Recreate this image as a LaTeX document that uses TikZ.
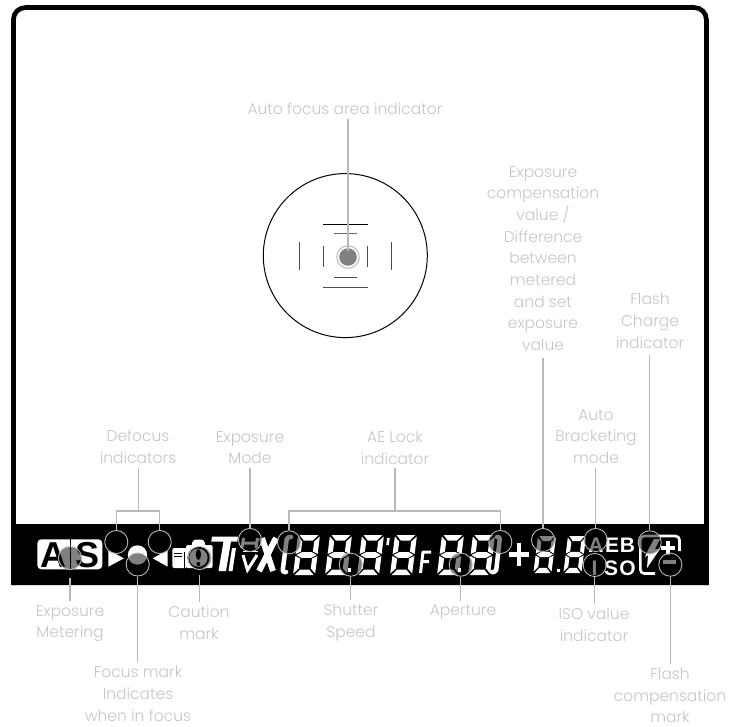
\documentclass[tikz,border=0pt]{standalone}
\usepackage{fontspec}
\setmainfont{Poppins}[UprightFont=* Light]
\newfontfamily\lcdfont{Liberation Sans}
\usetikzlibrary{calc}
\definecolor{labcol}{HTML}{C6C6C6}
\definecolor{leadcol}{HTML}{B9B9B9}
\definecolor{dimcol}{HTML}{808080}

\tikzset{
  lcddigit/.pic={
    \fill[white] (1.5,0)--(20.5,0)--(15.5,5.5)--(6.5,5.5)--cycle;
    \fill[white] (0,1.5)--(5,6.5)--(5,16.5)--(0,19)--cycle;
    \fill[white] (22,1.5)--(22,19)--(17,16.5)--(17,6.5)--cycle;
    \fill[white] (1,20)--(6,17.2)--(16,17.2)--(21,20)--(16,22.8)--(6,22.8)--cycle;
    \fill[white] (0,21)--(5,23.5)--(5,33.5)--(0,38.5)--cycle;
    \fill[white] (22,21)--(22,38.5)--(17,33.5)--(17,23.5)--cycle;
    \fill[white] (6.5,34.5)--(15.5,34.5)--(20.5,40)--(1.5,40)--cycle;
  }
}

\begin{document}
\begin{tikzpicture}[
  x=1pt, y=-1pt,
  lab/.style={text=labcol, align=center, inner sep=0pt, outer sep=4pt, font=\fontsize{15.5}{21.7}\selectfont},
  lead/.style={draw=leadcol, line width=1.2pt},
  loupe/.style={circle, draw=leadcol, line width=1pt, minimum size=23pt, inner sep=0pt},
  lcdtext/.style={text=white, inner sep=0pt, anchor=base, font=\lcdfont\bfseries\fontsize{21}{21}\selectfont},
  seg/.style={white, line width=4.5pt, line join=round},
  tick/.style={line width=1pt, draw=black!70}
]
\useasboundingbox (0,0) rectangle (739,727);

% ---- Viewfinder frame ----
\fill[black, rounded corners=2pt] (11,524) rectangle (708.7,585);
\draw[line width=4.7pt, rounded corners=12pt] (13.4,585) -- (13.4,7.6) -- (706.4,7.6) -- (706.4,585);

% ---- Focus circle ----
\node[circle, draw, line width=1pt, minimum size=164pt, inner sep=0pt] (afring) at (345.3,255.6) {};
\draw[line width=1pt] (323,224.3) -- (368,224.3);
\draw[line width=1.4pt, black!60] (334.3,233.7) -- (356.7,233.7);
\draw[line width=1pt, black!70] (334.3,278) -- (356.7,278);
\draw[line width=1pt, black!70] (323,287.7) -- (368,287.7);
\draw[tick] (299,242.3) -- (299,269.7);
\draw[tick] (323.7,245.7) -- (323.7,266.7);
\draw[tick] (367.7,245.7) -- (367.7,266.7);
\draw[tick] (391.7,242.3) -- (391.7,269.7);
\node[circle, fill=dimcol, minimum size=17.6pt, inner sep=0pt] (afdot) at (348,257) {};
\node[loupe, minimum size=22.5pt] (afloupe) at (348,257) {};

% ---- Metering box and focus signs ----
\fill[white, rounded corners=4pt] (37.3,539.3) rectangle (102.3,569.3);
\draw[line width=.8pt] (70,539.3) -- (70,569.3);
\node[lcdtext, text=black, font=\lcdfont\bfseries\fontsize{36}{36}\selectfont] (signA) at (53,567.7) {A};
\node[lcdtext, text=black, font=\lcdfont\bfseries\fontsize{36}{36}\selectfont] (signS) at (88,567.7) {S};
\fill[white] (108.3,550) -- (124,558.3) -- (108.3,566.7) -- cycle;
\fill[white] (167.7,550) -- (152.7,558.3) -- (167.7,566.7) -- cycle;
\fill[white] (137.5,555) circle (9.7);

% ---- Camera icon ----
\fill[white, rounded corners=2pt] (172.3,548) rectangle (187,568);
\fill[white, rounded corners=2pt] (186,545) rectangle (212.7,568);
\fill[white, rounded corners=3pt] (191,548) -- (193,539.5) -- (204,539.5) -- (206,548) -- cycle;
\draw[line width=1pt] (174,553.5) -- (182,553.5);
\draw[line width=1pt] (174,556.5) -- (182,556.5);
\draw[line width=1pt] (184.8,552) -- (184.8,568);
\fill[black] (198.4,557.7) circle (11);
\fill[white] (198.4,557.7) circle (9.2);
\fill[black] (198.4,554.5) ellipse (2.6 and 5.5);
\fill[black] (198.4,564) circle (2);

% ---- Mode letters ----
\fill[white] (212,536.5) -- (238,536.5) -- (237.3,541.5) -- (231,541.5) -- (226,571) -- (218.5,571) -- (223.5,541.5) -- (211.3,541.5) -- cycle;
\fill[white] (232,548) -- (236,548) -- (232.5,571) -- (228.5,571) -- cycle;
\draw[white, line width=3pt] (243.5,538) -- (242,548) (257.5,538) -- (256,548) (243,543) -- (257,543);
\draw[white, line width=1.8pt] (242.5,551.5) -- (258,551.5);
\draw[white, line width=3pt] (243,555) -- (247.5,570) -- (257,555);
\draw[white, line width=6pt] (262,538) -- (273,571) (276,538) -- (259,571);

% ---- Number segments ----
\foreach \x in {298,330,362,395,442,473}
  \path (\x,535) pic[xslant=.125] {lcddigit};
\foreach \x in {538,568}
  \path (\x,536) pic[xslant=.125, xscale=.82, yscale=.925] {lcddigit};
\draw[seg, line cap=round, rounded corners=2pt] (291,537) -- (287,537) -- (282.5,572) -- (286,572);
\draw[seg, line cap=round, rounded corners=2pt] (497,537) -- (500,537) -- (496,572) -- (492,572);
\draw[seg, line width=2.6pt] (388.5,538) -- (387.5,545);
\draw[seg, line width=3pt] (420.5,573) -- (423,552) -- (431,552) (422,561.5) -- (429,561.5);
\fill[white] (556.5,572) rectangle (559.5,569);
\draw[white, line width=4.5pt] (509,554.5) -- (529,554.5) (519,543) -- (519,566);

% ---- Bracketing, ISO and flash signs ----
\node[lcdtext] (signAeb) at (596,552) {A};
\node[lcdtext] (signE) at (612,552) {E};
\node[lcdtext] (signB) at (627.5,552) {B};
\node[lcdtext] (signI) at (594.5,575) {I};
\node[lcdtext] (signSo) at (611,575) {S};
\node[lcdtext] (signO) at (627.5,575) {O};
\draw[white, line width=2.6pt, rounded corners=4pt] (655,573.5) -- (640.3,573.5) -- (640.3,536) -- (679.5,536) -- (679.5,551);
\fill[white] (654,539) -- (660,539) -- (655,549) -- (660,549) -- (647,568) -- (648,555) -- (645,557) -- (648,550) -- cycle;
\draw[white, line width=3.4pt] (661,548) -- (675,548) (668,541) -- (668,555);
\draw[white, line width=4pt] (662.5,562) -- (676,562);

% ---- Loupes ----
\node[loupe] (mmeter) at (70,558) {};
\node[loupe] (mdefl) at (116.3,542) {};
\node[loupe] (mdefr) at (159.7,542) {};
\node[loupe] (mfocus) at (137.7,564.5) {};
\node[loupe] (mcaution) at (199.5,558) {};
\node[loupe] (mmode) at (250,540) {};
\node[loupe] (maeleft) at (289,542.3) {};
\node[loupe] (maeright) at (500.3,542) {};
\node[loupe] (mshutter) at (350.7,564.7) {};
\node[loupe] (maperture) at (460.7,564.7) {};
\node[loupe] (mcomp) at (543,540) {};
\node[loupe] (mbracket) at (595.7,540) {};
\node[loupe] (miso) at (594.7,565) {};
\node[loupe] (mcharge) at (649.7,542.3) {};
\node[loupe] (mflash) at (670.3,564.7) {};

% ---- Dimmed part inside the loupes ----
\begin{scope}
  \clip (11,524) rectangle (708.7,585);
  \foreach \m in {mmeter,mdefl,mdefr,mfocus,mcaution,mmode,maeleft,maeright,mshutter,maperture,mcomp,mbracket,miso,mcharge,mflash}
    \fill[dimcol, blend mode=multiply] (\m.center) circle (11);
\end{scope}
\fill[white] (348,567.5) rectangle (351,572);
\fill[white] (458,567.5) rectangle (461,572);

% ---- Labels ----
\node[lab] (labarea) at (345,109) {Auto focus area indicator};
\node[lab] (labcomp) at (543,258.5) {Exposure\\compensation\\value /\\Difference\\between\\metered\\and set\\exposure\\value};
\node[lab] (labcharge) at (650,321) {Flash\\Charge\\indicator};
\node[lab] (labbracket) at (596,436.5) {Auto\\Bracketing\\mode};
\node[lab] (labdefocus) at (138,447) {Defocus\\indicators};
\node[lab] (labmode) at (250,447.5) {Exposure\\Mode};
\node[lab] (labae) at (395,447.5) {AE Lock\\indicator};
\node[lab] (labmeter) at (70,623.5) {Exposure\\Metering};
\node[lab] (labcaution) at (199,623) {Caution\\mark};
\node[lab] (labshutter) at (351,623) {Shutter\\Speed};
\node[lab] (labaperture) at (463,612) {Aperture};
\node[lab] (labiso) at (594,625) {ISO value\\indicator};
\node[lab] (labfocus) at (138,694) {Focus mark\\Indicates\\when in focus};
\node[lab] (labflash) at (670,695.5) {Flash\\compensation\\mark};

% ---- Leads going up ----
\draw[lead] (afloupe.center |- labarea.south) -- ([yshift=6pt]afloupe.center);
\draw[lead] (mcomp.north |- labcomp.south) ++(0,3) -- (mcomp.north);
\draw[lead] (mcharge.north |- labcharge.south) ++(0,3) -- (mcharge.north);
\draw[lead] (mbracket.north |- labbracket.south) -- (mbracket.north);
\draw[lead] (mmode.north |- labmode.south) -- (mmode.north);
\coordinate (defjoin) at (138.7,511);
\coordinate (aejoin) at (395,511);
\draw[lead] (defjoin |- labdefocus.south) -- (defjoin);
\draw[lead] (mdefl.north) |- (defjoin) -| (mdefr.north);
\draw[lead] (aejoin |- labae.south) -- (aejoin);
\draw[lead] (maeleft.north) |- (aejoin) -| (maeright.north);

% ---- Leads going down ----
\draw[lead] ([yshift=-7.5pt]mmeter.south) -- (mmeter.south |- labmeter.north);
\draw[lead] (mfocus.south) -- (mfocus.south |- labfocus.north);
\draw[lead] ([yshift=-5pt]mcaution.south) -- (mcaution.south |- labcaution.north);
\draw[lead] (mshutter.south) -- (mshutter.south |- labshutter.north);
\draw[lead] (maperture.south) -- (maperture.south |- labaperture.north);
\draw[lead] (miso.south) -- (miso.south |- labiso.north);
\draw[lead] (mflash.south) -- (mflash.south |- labflash.north);

\end{tikzpicture}
\end{document}
